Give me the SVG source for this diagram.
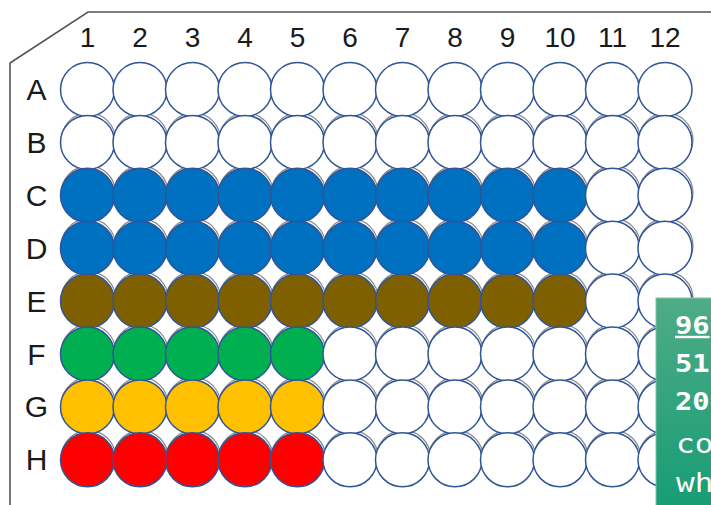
<svg xmlns="http://www.w3.org/2000/svg" width="711" height="505" viewBox="0 0 711 505">
<defs>
<linearGradient id="gbox" x1="0" y1="0" x2="0" y2="1">
<stop offset="0" stop-color="#4fab88"/>
<stop offset="1" stop-color="#169d74"/>
</linearGradient>
<style>
.lbl{font-family:"Liberation Sans",Arial,sans-serif;font-size:28px;fill:#1a1a1a;text-anchor:middle}
.rl{font-size:30px}
.w{stroke:#2f5597;stroke-width:1.5}
.sh{fill:none;stroke:#8a8a8a;stroke-width:1.2}
.e{fill:#ffffff}.b{fill:#0070c0}.br{fill:#7f6000}.g{fill:#00b050}.y{fill:#ffc000}.r{fill:#ff0000}
.mono{font-family:"DejaVu Sans Mono","Liberation Mono",monospace;fill:#ffffff}
.bd{font-size:24px;font-weight:bold}
.lt{font-size:27px}
</style>
</defs>
<rect width="711" height="505" fill="#ffffff"/>
<g id="plate">
<path d="M10,505 L10,63 L88,12 L711,12" fill="none" stroke="#555" stroke-width="1.6"/>
</g>
<g id="col-labels">
<text class="lbl" x="87.5" y="47">1</text>
<text class="lbl" x="140" y="47">2</text>
<text class="lbl" x="192.5" y="47">3</text>
<text class="lbl" x="245" y="47">4</text>
<text class="lbl" x="297.5" y="47">5</text>
<text class="lbl" x="350" y="47">6</text>
<text class="lbl" x="402.5" y="47">7</text>
<text class="lbl" x="455" y="47">8</text>
<text class="lbl" x="507.5" y="47">9</text>
<text class="lbl" x="560" y="47">10</text>
<text class="lbl" x="612.5" y="47">11</text>
<text class="lbl" x="665" y="47">12</text>
</g>
<g id="row-labels">
<text class="lbl rl" x="36.5" y="100">A</text>
<text class="lbl rl" x="36.5" y="153">B</text>
<text class="lbl rl" x="36.5" y="206">C</text>
<text class="lbl rl" x="36.5" y="259">D</text>
<text class="lbl rl" x="36.5" y="312">E</text>
<text class="lbl rl" x="36.5" y="365">F</text>
<text class="lbl rl" x="36.5" y="417">G</text>
<text class="lbl rl" x="36.5" y="470">H</text>
</g>
<g id="shadows">
<g transform="translate(1,-2.5)">
<g id="shrow">
<circle class="sh" cx="87.5" cy="142.4" r="27"/><circle class="sh" cx="140" cy="142.4" r="27"/><circle class="sh" cx="192.5" cy="142.4" r="27"/><circle class="sh" cx="245" cy="142.4" r="27"/><circle class="sh" cx="297.5" cy="142.4" r="27"/><circle class="sh" cx="350" cy="142.4" r="27"/><circle class="sh" cx="402.5" cy="142.4" r="27"/><circle class="sh" cx="455" cy="142.4" r="27"/><circle class="sh" cx="507.5" cy="142.4" r="27"/><circle class="sh" cx="560" cy="142.4" r="27"/><circle class="sh" cx="612.5" cy="142.4" r="27"/><circle class="sh" cx="665" cy="142.4" r="27"/>
</g>
<use href="#shrow" y="52.9"/><use href="#shrow" y="105.8"/><use href="#shrow" y="158.7"/><use href="#shrow" y="211.6"/><use href="#shrow" y="264.5"/><use href="#shrow" y="317.4"/>
</g>
</g>
<g id="wells">
<g id="row-A">
<circle class="w e" cx="87.5" cy="89.5" r="27"/><circle class="w e" cx="140" cy="89.5" r="27"/><circle class="w e" cx="192.5" cy="89.5" r="27"/><circle class="w e" cx="245" cy="89.5" r="27"/><circle class="w e" cx="297.5" cy="89.5" r="27"/><circle class="w e" cx="350" cy="89.5" r="27"/><circle class="w e" cx="402.5" cy="89.5" r="27"/><circle class="w e" cx="455" cy="89.5" r="27"/><circle class="w e" cx="507.5" cy="89.5" r="27"/><circle class="w e" cx="560" cy="89.5" r="27"/><circle class="w e" cx="612.5" cy="89.5" r="27"/><circle class="w e" cx="665" cy="89.5" r="27"/>
</g>
<g id="row-B">
<circle class="w e" cx="87.5" cy="142.4" r="27"/><circle class="w e" cx="140" cy="142.4" r="27"/><circle class="w e" cx="192.5" cy="142.4" r="27"/><circle class="w e" cx="245" cy="142.4" r="27"/><circle class="w e" cx="297.5" cy="142.4" r="27"/><circle class="w e" cx="350" cy="142.4" r="27"/><circle class="w e" cx="402.5" cy="142.4" r="27"/><circle class="w e" cx="455" cy="142.4" r="27"/><circle class="w e" cx="507.5" cy="142.4" r="27"/><circle class="w e" cx="560" cy="142.4" r="27"/><circle class="w e" cx="612.5" cy="142.4" r="27"/><circle class="w e" cx="665" cy="142.4" r="27"/>
</g>
<g id="row-C">
<circle class="w b" cx="87.5" cy="195.3" r="27"/><circle class="w b" cx="140" cy="195.3" r="27"/><circle class="w b" cx="192.5" cy="195.3" r="27"/><circle class="w b" cx="245" cy="195.3" r="27"/><circle class="w b" cx="297.5" cy="195.3" r="27"/><circle class="w b" cx="350" cy="195.3" r="27"/><circle class="w b" cx="402.5" cy="195.3" r="27"/><circle class="w b" cx="455" cy="195.3" r="27"/><circle class="w b" cx="507.5" cy="195.3" r="27"/><circle class="w b" cx="560" cy="195.3" r="27"/><circle class="w e" cx="612.5" cy="195.3" r="27"/><circle class="w e" cx="665" cy="195.3" r="27"/>
</g>
<g id="row-D">
<circle class="w b" cx="87.5" cy="248.2" r="27"/><circle class="w b" cx="140" cy="248.2" r="27"/><circle class="w b" cx="192.5" cy="248.2" r="27"/><circle class="w b" cx="245" cy="248.2" r="27"/><circle class="w b" cx="297.5" cy="248.2" r="27"/><circle class="w b" cx="350" cy="248.2" r="27"/><circle class="w b" cx="402.5" cy="248.2" r="27"/><circle class="w b" cx="455" cy="248.2" r="27"/><circle class="w b" cx="507.5" cy="248.2" r="27"/><circle class="w b" cx="560" cy="248.2" r="27"/><circle class="w e" cx="612.5" cy="248.2" r="27"/><circle class="w e" cx="665" cy="248.2" r="27"/>
</g>
<g id="row-E">
<circle class="w br" cx="87.5" cy="301.1" r="27"/><circle class="w br" cx="140" cy="301.1" r="27"/><circle class="w br" cx="192.5" cy="301.1" r="27"/><circle class="w br" cx="245" cy="301.1" r="27"/><circle class="w br" cx="297.5" cy="301.1" r="27"/><circle class="w br" cx="350" cy="301.1" r="27"/><circle class="w br" cx="402.5" cy="301.1" r="27"/><circle class="w br" cx="455" cy="301.1" r="27"/><circle class="w br" cx="507.5" cy="301.1" r="27"/><circle class="w br" cx="560" cy="301.1" r="27"/><circle class="w e" cx="612.5" cy="301.1" r="27"/><circle class="w e" cx="665" cy="301.1" r="27"/>
</g>
<g id="row-F">
<circle class="w g" cx="87.5" cy="354" r="27"/><circle class="w g" cx="140" cy="354" r="27"/><circle class="w g" cx="192.5" cy="354" r="27"/><circle class="w g" cx="245" cy="354" r="27"/><circle class="w g" cx="297.5" cy="354" r="27"/><circle class="w e" cx="350" cy="354" r="27"/><circle class="w e" cx="402.5" cy="354" r="27"/><circle class="w e" cx="455" cy="354" r="27"/><circle class="w e" cx="507.5" cy="354" r="27"/><circle class="w e" cx="560" cy="354" r="27"/><circle class="w e" cx="612.5" cy="354" r="27"/><circle class="w e" cx="665" cy="354" r="27"/>
</g>
<g id="row-G">
<circle class="w y" cx="87.5" cy="406.9" r="27"/><circle class="w y" cx="140" cy="406.9" r="27"/><circle class="w y" cx="192.5" cy="406.9" r="27"/><circle class="w y" cx="245" cy="406.9" r="27"/><circle class="w y" cx="297.5" cy="406.9" r="27"/><circle class="w e" cx="350" cy="406.9" r="27"/><circle class="w e" cx="402.5" cy="406.9" r="27"/><circle class="w e" cx="455" cy="406.9" r="27"/><circle class="w e" cx="507.5" cy="406.9" r="27"/><circle class="w e" cx="560" cy="406.9" r="27"/><circle class="w e" cx="612.5" cy="406.9" r="27"/><circle class="w e" cx="665" cy="406.9" r="27"/>
</g>
<g id="row-H">
<circle class="w r" cx="87.5" cy="459.8" r="27"/><circle class="w r" cx="140" cy="459.8" r="27"/><circle class="w r" cx="192.5" cy="459.8" r="27"/><circle class="w r" cx="245" cy="459.8" r="27"/><circle class="w r" cx="297.5" cy="459.8" r="27"/><circle class="w e" cx="350" cy="459.8" r="27"/><circle class="w e" cx="402.5" cy="459.8" r="27"/><circle class="w e" cx="455" cy="459.8" r="27"/><circle class="w e" cx="507.5" cy="459.8" r="27"/><circle class="w e" cx="560" cy="459.8" r="27"/><circle class="w e" cx="612.5" cy="459.8" r="27"/><circle class="w e" cx="665" cy="459.8" r="27"/>
</g>
</g>
<g id="info-box">
<rect x="656" y="298" width="60" height="212" fill="url(#gbox)" stroke="#7cc4a6" stroke-width="1"/>
<text class="mono bd" transform="translate(675,334) scale(1.2,1)" text-decoration="underline">96</text>
<text class="mono bd" transform="translate(675,372) scale(1.2,1)">51</text>
<text class="mono bd" transform="translate(675,410) scale(1.2,1)">20</text>
<text class="mono lt" transform="translate(676,453) scale(1.15,1)">co</text>
<text class="mono lt" transform="translate(676,492) scale(1.15,1)">wh</text>
</g>
</svg>
